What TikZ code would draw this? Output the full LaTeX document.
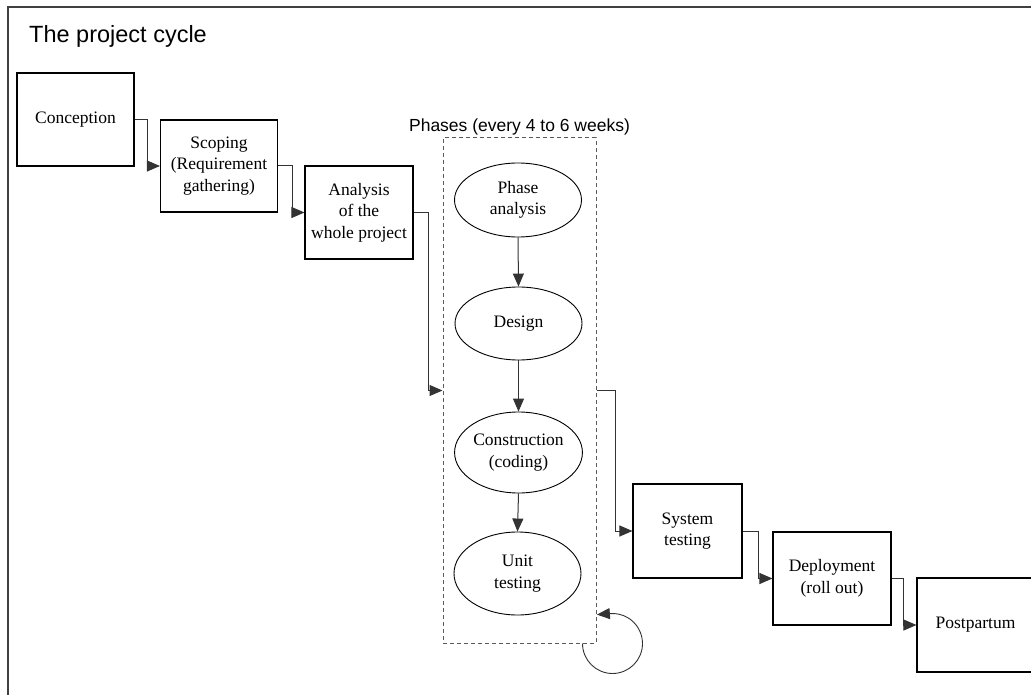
\documentclass[tikz,border=0pt]{standalone}
\usepackage{fontspec}
\setmainfont{Liberation Serif}
\newfontfamily\arialfont{Liberation Sans}
\usetikzlibrary{shapes.geometric,arrows.meta}
\begin{document}
\begin{tikzpicture}[x=1pt,y=1pt,
  stagebox/.style={draw=black, line width=1.1pt, rectangle, inner sep=0pt, align=center,
    font=\fontsize{17.5}{21.5}\selectfont},
  phasell/.style={draw=black, line width=0.9pt, ellipse, inner sep=0pt, align=center,
    minimum width=127, font=\fontsize{17.5}{21.5}\selectfont},
  conn/.style={draw=black!80, line width=1pt, -{Triangle[length=13pt,width=11pt]}},
  dashbox/.style={draw=black!65, line width=1pt, dash pattern=on 4pt off 3pt, rectangle, inner sep=0pt}
]
\useasboundingbox (0,0) rectangle (1031,-695);
\clip (0,0) rectangle (1031,-695);
\fill[white] (0,0) rectangle (1031,-695);
% frame
\draw[line width=1.6pt, black!75] (8,-695) -- (8,-7) -- (1031,-7);
% title
\node[anchor=base west, inner sep=0pt, font=\arialfont\fontsize{23.5}{28}\selectfont] (title) at (29,-43) {The project cycle};
% stage boxes
\node[stagebox, minimum width=117, minimum height=93] (conc) at (75.5,-119.5) {Conception};
\node[stagebox, minimum width=117, minimum height=92] (scop) at (219,-166) {Scoping\\(Requirement\\gathering)};
\node[stagebox, minimum width=108, minimum height=93] (anal) at (359,-212.5) {Analysis\\of the\\whole project};
\node[stagebox, minimum width=109, minimum height=94] (syst) at (687.5,-531) {System\\testing};
\node[stagebox, minimum width=118, minimum height=93] (depl) at (832,-578.5) {Deployment\\(roll out)};
\node[stagebox, minimum width=117, minimum height=94] (post) at (975.5,-625) {Postpartum};
% phases box
\node[dashbox, minimum width=153, minimum height=505] (ph) at (519.5,-390.5) {};
\node[anchor=base, inner sep=0pt, font=\arialfont\fontsize{17.5}{21}\selectfont] (phlabel) at (519.5,-132) {Phases (every 4 to 6 weeks)};
% phase ellipses
\node[phasell, minimum height=74] (pa) at (518,-200) {Phase\\analysis};
\node[phasell, minimum height=73] (de) at (518.5,-323.5) {Design};
\node[phasell, minimum height=81] (co) at (518.5,-452.5) {Construction\\(coding)};
\node[phasell, minimum height=83] (ut) at (517.5,-573.5) {Unit\\testing};
% connectors
\draw[conn] (conc.east) -- ([xshift=13]conc.east) |- (scop.west);
\draw[conn] (scop.east) -- ([xshift=14]scop.east) |- (anal.west);
\draw[conn] (anal.east) -- ([xshift=15]anal.east) |- (ph.west);
\draw[conn] (ph.east) -- ([xshift=19]ph.east) |- (syst.west);
\draw[conn] (syst.east) -- ([xshift=16]syst.east) |- (depl.west);
\draw[conn] (depl.east) -- ([xshift=12]depl.east) |- (post.west);
\draw[conn] (pa.south) -- (de.north);
\draw[conn] (de.south) -- (co.north);
\draw[conn] (co.south) -- (ut.north);
% loop
\draw[conn, line width=0.9pt] ([xshift=-14]ph.south east) arc[start angle=180, end angle=455, radius=30] -- ++(-13,-1);
\end{tikzpicture}
\end{document}
